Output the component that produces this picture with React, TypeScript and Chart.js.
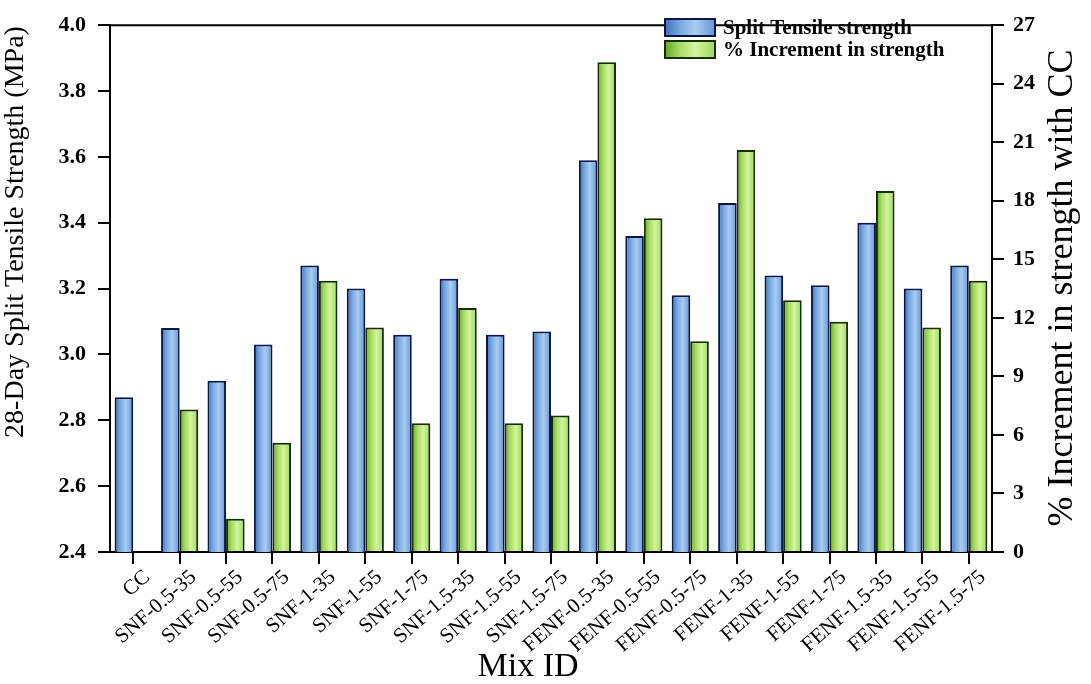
import React, { useEffect, useRef } from 'react';
import { Chart, registerables } from 'chart.js';

Chart.register(...registerables);

const mixIds = [
  'CC', 'SNF-0.5-35', 'SNF-0.5-55', 'SNF-0.5-75', 'SNF-1-35', 'SNF-1-55', 'SNF-1-75',
  'SNF-1.5-35', 'SNF-1.5-55', 'SNF-1.5-75', 'FENF-0.5-35', 'FENF-0.5-55', 'FENF-0.5-75',
  'FENF-1-35', 'FENF-1-55', 'FENF-1-75', 'FENF-1.5-35', 'FENF-1.5-55', 'FENF-1.5-75',
];
const splitTensile = [
  2.87, 3.08, 2.92, 3.03, 3.27, 3.20, 3.06, 3.23, 3.06, 3.07,
  3.59, 3.36, 3.18, 3.46, 3.24, 3.21, 3.40, 3.20, 3.27,
];
const incrementPct = [
  null, 7.3, 1.7, 5.6, 13.9, 11.5, 6.6, 12.5, 6.6, 7.0,
  25.1, 17.1, 10.8, 20.6, 12.9, 11.8, 18.5, 11.5, 13.9,
];
const leftTicks = [2.4, 2.6, 2.8, 3.0, 3.2, 3.4, 3.6, 3.8, 4.0];
const rightTicks = [0, 3, 6, 9, 12, 15, 18, 21, 24, 27];
const seriesLabels = ['Split Tensile strength', '% Increment in strength'];
const leftTitle = '28-Day Split Tensile Strength (MPa)';
const rightTitle = '% Increment in strength with CC';
const xTitle = 'Mix ID';

const SERIF = "'Liberation Serif', 'Times New Roman', serif";
const CAT_PCT = 0.8;

const blueStops: [number, string][] = [
  [0, '#3a6db5'], [0.3, '#78a8e0'], [0.6, '#a9cdf1'], [1, '#6292d2'],
];
const greenStops: [number, string][] = [
  [0, '#64a326'], [0.3, '#a6dc62'], [0.6, '#d2f59e'], [1, '#9dd458'],
];
const blueBorder = '#0a1548';
const greenBorder = '#142e00';

function makeGrad(ctx: CanvasRenderingContext2D, x0: number, x1: number, stops: [number, string][]) {
  const g = ctx.createLinearGradient(x0, 0, x1, 0);
  stops.forEach(([o, c]) => g.addColorStop(o, c));
  return g;
}

function barFill(dsIndex: number, stops: [number, string][]) {
  return (c: any) => {
    const chart = c.chart;
    const xs = chart.scales && chart.scales.x;
    if (!xs || c.dataIndex === undefined || !isFinite(xs.width)) return stops[2][1];
    const center = xs.getPixelForValue(c.dataIndex);
    const bw = (xs.width / mixIds.length) * CAT_PCT / 2;
    const x0 = dsIndex === 0 ? center - bw : center;
    return makeGrad(chart.ctx, x0, x0 + bw, stops);
  };
}

const decor = {
  id: 'decor',
  afterDraw(chart: any) {
    const { ctx, chartArea } = chart;
    ctx.save();
    ctx.strokeStyle = '#000';
    ctx.lineWidth = 2;
    ctx.beginPath();
    ctx.moveTo(chartArea.left, chartArea.top);
    ctx.lineTo(chartArea.right, chartArea.top);
    ctx.stroke();

    ctx.fillStyle = '#000';
    ctx.textAlign = 'center';
    ctx.textBaseline = 'middle';

    ctx.save();
    ctx.translate(16, 232);
    ctx.rotate(-Math.PI / 2);
    ctx.font = `28px ${SERIF}`;
    ctx.fillText(leftTitle, 0, 0);
    ctx.restore();

    ctx.save();
    ctx.translate(1063, 288);
    ctx.rotate(-Math.PI / 2);
    ctx.font = `36px ${SERIF}`;
    ctx.fillText(rightTitle, 0, 0);
    ctx.restore();

    ctx.font = `34px ${SERIF}`;
    ctx.fillText(xTitle, 528, 667);

    // legend
    const boxes = [
      { y: 18, stops: blueStops, border: blueBorder },
      { y: 40, stops: greenStops, border: greenBorder },
    ];
    boxes.forEach((b, i) => {
      const x = 664, w = 52, h = 19;
      ctx.fillStyle = makeGrad(ctx, x, x + w, b.stops);
      ctx.fillRect(x, b.y, w, h);
      ctx.strokeStyle = b.border;
      ctx.lineWidth = 2;
      ctx.strokeRect(x + 1, b.y + 1, w - 2, h - 2);
      ctx.fillStyle = '#000';
      ctx.textAlign = 'left';
      ctx.font = `bold 21px ${SERIF}`;
      ctx.fillText(seriesLabels[i], 723, b.y + h / 2 + 1);
    });
    ctx.restore();
  },
};

export default function App() {
  const ref = useRef<HTMLCanvasElement>(null);
  useEffect(() => {
    if (!ref.current) return;
    const tickFont = { family: SERIF, size: 22, weight: 'bold' as const };
    const chart = new Chart(ref.current, {
      type: 'bar',
      data: {
        labels: mixIds,
        datasets: [
          {
            label: seriesLabels[0],
            data: splitTensile,
            yAxisID: 'y',
            backgroundColor: barFill(0, blueStops),
            borderColor: blueBorder,
            borderWidth: 2,
            categoryPercentage: CAT_PCT,
            barPercentage: 1,
          },
          {
            label: seriesLabels[1],
            data: incrementPct,
            yAxisID: 'y1',
            backgroundColor: barFill(1, greenStops),
            borderColor: greenBorder,
            borderWidth: 2,
            categoryPercentage: CAT_PCT,
            barPercentage: 1,
          },
        ],
      },
      options: {
        animation: false,
        responsive: false,
        layout: { padding: { top: 15, left: 0, right: 0, bottom: 0 } },
        plugins: { legend: { display: false }, tooltip: { enabled: false } },
        scales: {
          x: {
            grid: { drawOnChartArea: false, offset: false, tickLength: 12, color: '#000', lineWidth: 2 },
            border: { display: true, color: '#000', width: 2 },
            ticks: {
              color: '#000',
              font: { family: SERIF, size: 21 },
              minRotation: 41,
              maxRotation: 41,
              autoSkip: false,
              labelOffset: 14,
              padding: 1,
            },
            afterFit: (s: any) => { s.height = 132; },
          },
          y: {
            position: 'left',
            min: 2.4,
            max: 4.0,
            afterBuildTicks: (s: any) => { s.ticks = leftTicks.map((v) => ({ value: v })); },
            grid: { drawOnChartArea: false, tickLength: 12, color: '#000', lineWidth: 2 },
            border: { display: true, color: '#000', width: 2 },
            ticks: {
              color: '#000',
              font: tickFont,
              padding: 12,
              callback: (v: any) => Number(v).toFixed(1),
            },
            afterFit: (s: any) => { s.width = 110; },
          },
          y1: {
            position: 'right',
            min: 0,
            max: 27,
            afterBuildTicks: (s: any) => { s.ticks = rightTicks.map((v) => ({ value: v })); },
            grid: { drawOnChartArea: false, tickLength: 12, color: '#000', lineWidth: 2 },
            border: { display: true, color: '#000', width: 2 },
            ticks: {
              color: '#000',
              font: tickFont,
              padding: 9,
              callback: (v: any) => String(v),
            },
            afterFit: (s: any) => { s.width = 99; },
          },
        },
      },
      plugins: [decor],
    });
    return () => chart.destroy();
  }, []);

  return (
    <div style={{ position: 'fixed', left: 0, top: 0, width: 1091, height: 684, background: '#fff' }}>
      <canvas ref={ref} width={1091} height={684} style={{ width: 1091, height: 684, display: 'block' }} />
    </div>
  );
}
